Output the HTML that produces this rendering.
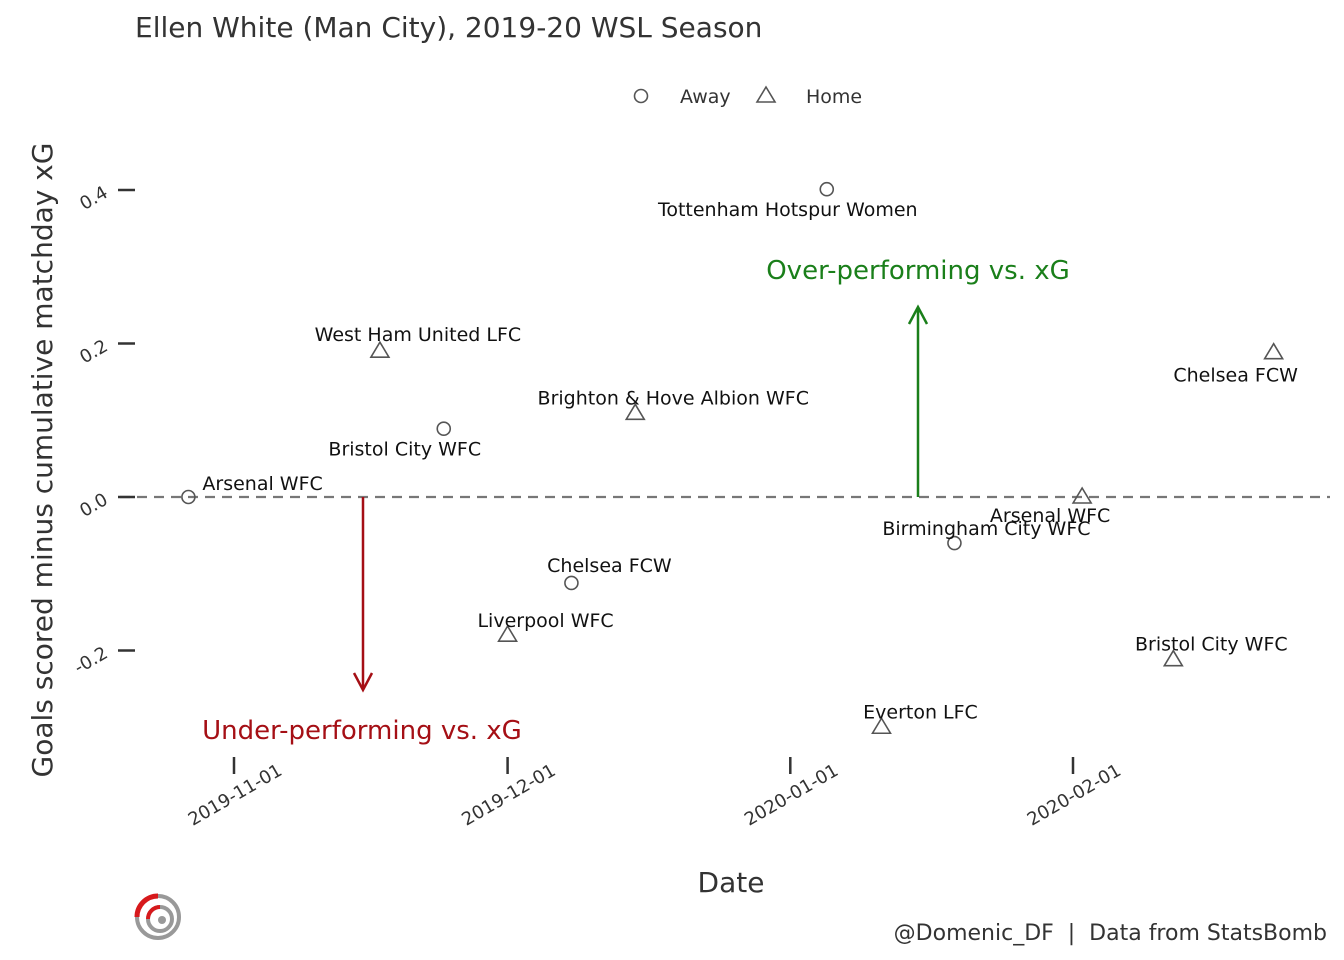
<!DOCTYPE html>
<html><head><meta charset="utf-8"><style>
html,body{margin:0;padding:0;background:#fff;}
svg{display:block;font-family:"DejaVu Sans","Liberation Sans",sans-serif;}
</style></head><body>
<svg id="chart" width="1344" height="960">
<text x="135" y="37" font-size="28" fill="#333">Ellen White (Man City), 2019-20 WSL Season</text>
<g>
<circle cx="641" cy="96" r="6.5" fill="none" stroke="#555" stroke-width="1.6"/>
<text x="680" y="103" font-size="19" fill="#333">Away</text>
<polygon points="766,87 775,102 757,102" fill="none" stroke="#555" stroke-width="1.6"/>
<text x="806" y="103" font-size="19" fill="#333">Home</text>
</g>
<text transform="translate(52,460) rotate(-90)" text-anchor="middle" font-size="28" fill="#333">Goals scored minus cumulative matchday xG</text>
<text x="731" y="892" text-anchor="middle" font-size="28" fill="#333">Date</text>
<line x1="120" y1="497" x2="1330" y2="497" stroke="#777" stroke-width="2.2" stroke-dasharray="10,7"/>
<g id="yaxis"></g>
<g id="xaxis"></g>
<g>
<line x1="918" y1="497" x2="918" y2="308" stroke="#1a7f1a" stroke-width="2.5"/>
<polyline points="909,324 918,307 927,324" fill="none" stroke="#1a7f1a" stroke-width="2.5"/>
<text x="918" y="279" text-anchor="middle" font-size="26" fill="#1a7f1a">Over-performing vs. xG</text>
</g>
<g>
<line x1="363" y1="497" x2="363" y2="689" stroke="#a50f15" stroke-width="2.5"/>
<polyline points="354,673 363,690 372,673" fill="none" stroke="#a50f15" stroke-width="2.5"/>
<text x="362" y="739" text-anchor="middle" font-size="26" fill="#a50f15">Under-performing vs. xG</text>
</g>
<g id="points"></g>
<g>
<circle cx="158" cy="917" r="21" fill="none" stroke="#999" stroke-width="4"/>
<path d="M137,917 A21,21 0 0 1 158,896" fill="none" stroke="#d7191c" stroke-width="5"/>
<circle cx="160" cy="919" r="12" fill="none" stroke="#999" stroke-width="4"/>
<path d="M148,919 A12,12 0 0 1 160,907" fill="none" stroke="#d7191c" stroke-width="4"/>
<circle cx="162" cy="920" r="4" fill="#999"/>
</g>
<text x="1327" y="940" text-anchor="end" font-size="22" fill="#333" style="white-space:pre">@Domenic_DF  |  Data from StatsBomb</text>
</svg>
<script>
const teams = ["Arsenal WFC","West Ham United LFC","Bristol City WFC","Liverpool WFC","Chelsea FCW","Brighton & Hove Albion WFC","Tottenham Hotspur Women","Everton LFC","Birmingham City WFC","Arsenal WFC","Bristol City WFC","Chelsea FCW"];
const dates = ["2019-10-27","2019-11-17","2019-11-24","2019-12-01","2019-12-08","2019-12-15","2020-01-05","2020-01-11","2020-01-19","2020-02-02","2020-02-12","2020-02-23"];
const venues = ["Away","Home","Away","Home","Away","Home","Away","Home","Away","Home","Home","Home"];
const diffs = [0.0,0.19,0.089,-0.18,-0.112,0.109,0.401,-0.30,-0.06,0.0,-0.212,0.188];
const yTicks = [-0.2,0.0,0.2,0.4];
const xTicks = ["2019-11-01","2019-12-01","2020-01-01","2020-02-01"];
const labelDx = [14,38,-39,38,38,38,-39,39,32,-32,38,-38];
const labelDy = [-14,-17,20,-15,-18,-16,20,-16,-15,18,-16,22];

const NS="http://www.w3.org/2000/svg";
const d0=Date.UTC(2019,10,1);
function dayOf(s){const p=s.split("-").map(Number);return (Date.UTC(p[0],p[1]-1,p[2])-d0)/86400000;}
function xs(s){return 234+dayOf(s)*(839/92);}
function ys(v){return 497-v*767.5;}
function mk(tag,attrs,parent){const e=document.createElementNS(NS,tag);for(const k in attrs)e.setAttribute(k,attrs[k]);parent.appendChild(e);return e;}

const ya=document.getElementById("yaxis");
yTicks.forEach(v=>{
  const y=ys(v);
  const l=mk("line",{x1:118,x2:135,y1:y,y2:y,stroke:"#333","stroke-width":2.5},ya);
  
  
  const t=mk("text",{transform:`translate(109,${y+6}) rotate(-30)`,"text-anchor":"end","font-size":18,fill:"#333"},ya);
  t.textContent=v.toFixed(1);
  
  
});
const xa=document.getElementById("xaxis");
xTicks.forEach(d=>{
  const x=xs(d);
  const l=mk("line",{x1:x,x2:x,y1:757,y2:774,stroke:"#333","stroke-width":2.5},xa);
  
  
  const t=mk("text",{transform:`translate(${x+4},${800}) rotate(-30)`,"text-anchor":"middle","font-size":18,fill:"#333"},xa);
  t.textContent=d;
  
  
});
const pg=document.getElementById("points");
teams.forEach((team,i)=>{
  const x=xs(dates[i]),y=ys(diffs[i]);
  let m;
  if(venues[i]==="Away"){
    m=mk("circle",{cx:x,cy:y,r:6.5,fill:"none",stroke:"#555","stroke-width":1.6},pg);
  }else{
    m=mk("polygon",{points:`${x},${y-9} ${x+9},${y+6} ${x-9},${y+6}`,fill:"none",stroke:"#555","stroke-width":1.6},pg);
  }
  
  
  const t=mk("text",{x:x+labelDx[i],y:y+labelDy[i]+7,"text-anchor":i===0?"start":"middle","font-size":19,fill:"#111"},pg);
  t.textContent=team;
  
  
});
</script>
</body></html>
